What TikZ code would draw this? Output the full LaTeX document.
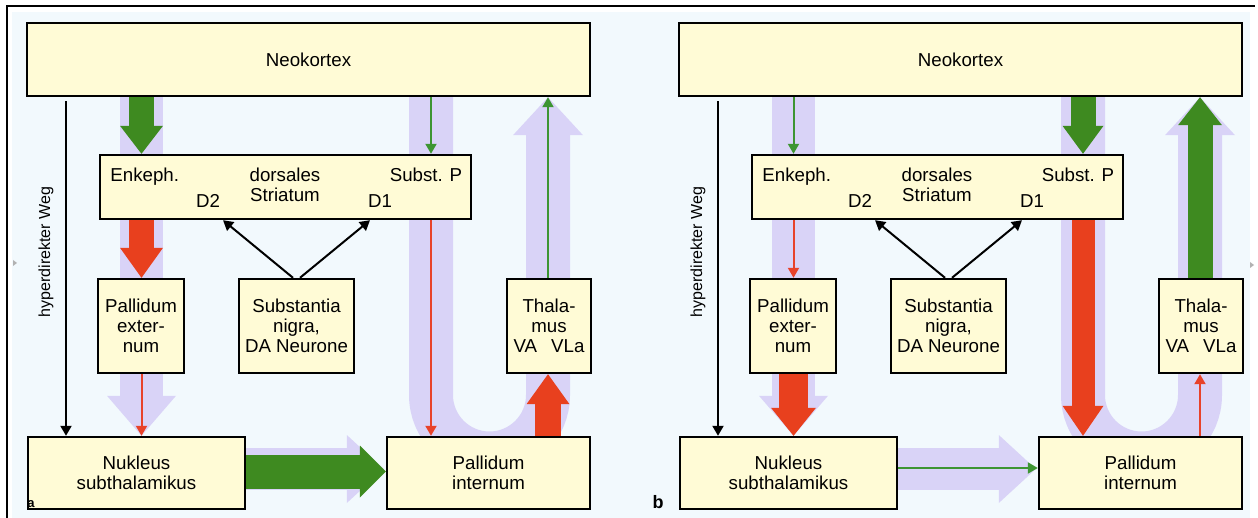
\documentclass[tikz,border=0pt]{standalone}
\usepackage{fontspec}
\setmainfont{Liberation Sans}
\usetikzlibrary{arrows.meta}
\definecolor{boxfill}{HTML}{FFFBD6}
\definecolor{lav}{HTML}{D9D3F7}
\definecolor{bgblue}{HTML}{F2F9FD}
\definecolor{fatgreen}{HTML}{3E8A20}
\definecolor{fatred}{HTML}{E8401E}
\definecolor{thingreen}{HTML}{3D9532}
\definecolor{thinred}{HTML}{E8422A}
\pgfdeclarelayer{back}
\pgfdeclarelayer{bg}
\pgfdeclarelayer{mid}
\pgfsetlayers{back,bg,mid,main}
\newcommand\boxfont{\fontsize{9.35}{10}\selectfont}
\tikzset{
  box/.style={draw=black, line width=1.2pt, fill=boxfill, inner sep=0pt, align=center, font=\boxfont},
  lbl/.style={inner sep=0pt, anchor=base, font=\boxfont},
  thinarr/.style={line width=1pt, -{Triangle[length=5pt,width=5.5pt]}},
  fat/.style n args={4}{draw=#1, line width=#2, -{Triangle[length=#4,width=#3,line width=0pt]}},
}
\newcommand\basepanel[2]{%
\begin{scope}[xshift=#2]
  \node[box, minimum width=281.5pt, minimum height=36.5pt] (#1neo) at (308.5,59.5) {Neokortex};
  \node[box, minimum width=185.5pt, minimum height=32pt] (#1str) at (285.5,187) {};
  \node[lbl, anchor=base west] (#1enk) at (110,182) {Enkeph.};
  \node[lbl] (#1dor) at (285,182) {dorsales};
  \node[lbl] (#1stt) at (285,202) {Striatum};
  \node[lbl] (#1dd2) at (208,208) {D2};
  \node[lbl] (#1dd1) at (380,208) {D1};
  \node[lbl] (#1sp) at (426,182) {Subst. P};
  \node[box, minimum width=43pt, minimum height=47pt] (#1pe) at (141,326) {Pallidum\\exter-\\num};
  \node[box, minimum width=57.5pt, minimum height=47pt] (#1sn) at (296.5,326) {Substantia\\nigra,\\DA Neurone};
  \node[box, minimum width=42pt, minimum height=47pt] (#1thal) at (549,326) {Thala-\\mus\\VA\hspace{7pt}VLa};
  \node[box, minimum width=108.5pt, minimum height=36pt] (#1nuk) at (136.5,473) {Nukleus\\subthalamikus};
  \node[box, minimum width=101.5pt, minimum height=36pt] (#1pi) at (488.5,473) {Pallidum\\internum};
  \coordinate (#1cL) at (141.5,0);
  \coordinate (#1cR1) at (431,0);
  \coordinate (#1cR2) at (548,0);
  \coordinate (#1cH) at (66,0);
  \coordinate (#1cD2) at (223,0);
  \coordinate (#1cD1) at (370,0);
  \coordinate (#1rH) at (0,469);
  \coordinate (#1rH2) at (0,471.5);
  \coordinate (#1rH3) at (0,468);
  \begin{pgfonlayer}{bg}
    \draw[fat={lav}{21.5pt}{34.5pt}{20pt}] (#1cL |- #1neo.south) -- (#1cL |- #1nuk.north);
    \draw[fat={lav}{21pt}{34pt}{18.5pt}, shorten >=1pt] (#1rH -| #1nuk.east) -- (#1rH -| #1pi.west);
    \draw[fat={lav}{22pt}{35pt}{19pt}] (#1cR1 |- #1neo.south) -- (431,395)
      .. controls (431,427.3) and (457.2,453.5) .. (489.5,453.5)
      .. controls (521.8,453.5) and (548,427.3) .. (548,395) -- (#1cR2 |- #1neo.south);
  \end{pgfonlayer}
  \draw[thinarr] ([yshift=-2pt]#1cH |- #1neo.south) -- (#1cH |- #1nuk.north);
  \node[rotate=90, inner sep=0pt, font=\fontsize{8}{9.6}\selectfont] (#1hyp) at (46,252) {hyperdirekter Weg};
  \draw[thinarr] ([xshift=-1.75pt]#1sn.north) -- (#1cD2 |- #1str.south);
  \draw[thinarr] ([xshift=1.75pt]#1sn.north) -- (#1cD1 |- #1str.south);
\end{scope}}
\begin{document}
\begin{tikzpicture}[x=0.5pt,y=-0.5pt]
\useasboundingbox (0,0) rectangle (1258,518);
\begin{pgfonlayer}{back}
  \fill[white] (0,0) rectangle (1258,518);
  \fill[bgblue] (12,12) rectangle (1250,518);
  \draw[line width=1pt] (7,518) -- (7,6) -- (1255,6);
  \fill[gray!60] (13,260) -- (17,263) -- (13,266) -- cycle;
  \fill[gray!60] (1250,262) -- (1254,265) -- (1250,268) -- cycle;
\end{pgfonlayer}
\basepanel{a}{0pt}
\basepanel{b}{326pt}
% panel a
\begin{pgfonlayer}{mid}
  \draw[fat={fatgreen}{12.5pt}{21.5pt}{14pt}] (acL |- aneo.south) -- (acL |- astr.north);
  \draw[fat={fatred}{12.5pt}{21.5pt}{15pt}] (acL |- astr.south) -- (acL |- ape.north);
  \draw[fat={fatgreen}{17pt}{26pt}{13pt}] (arH2 -| anuk.east) -- (arH2 -| api.west);
  \draw[fat={fatred}{13pt}{21.5pt}{15pt}] (acR2 |- api.north) -- (acR2 |- athal.south);
  % panel b
  \draw[fat={fatred}{14.5pt}{22.5pt}{14pt}] (bcL |- bpe.south) -- (bcL |- bnuk.north);
  \draw[fat={fatgreen}{12.5pt}{20.5pt}{14pt}] (bcR1 |- bneo.south) -- (bcR1 |- bstr.north);
  \draw[fat={fatred}{11.5pt}{20.5pt}{15pt}] (bcR1 |- bstr.south) -- (bcR1 |- bpi.north);
  \draw[fat={fatgreen}{12.5pt}{22pt}{14pt}] (bcR2 |- bthal.north) -- (bcR2 |- bneo.south);
\end{pgfonlayer}
\draw[thinarr, thinred] (acL |- ape.south) -- (acL |- anuk.north);
\draw[thinarr, thingreen] (acR1 |- aneo.south) -- (acR1 |- astr.north);
\draw[thinarr, thinred] (acR1 |- astr.south) -- (acR1 |- api.north);
\draw[thinarr, thingreen] (acR2 |- athal.north) -- (acR2 |- aneo.south);
\draw[thinarr, thingreen] (bcL |- bneo.south) -- (bcL |- bstr.north);
\draw[thinarr, thinred] (bcL |- bstr.south) -- (bcL |- bpe.north);
\draw[thinarr, thingreen] (brH3 -| bnuk.east) -- (brH3 -| bpi.west);
\draw[thinarr, thinred] (bcR2 |- bpi.north) -- (bcR2 |- bthal.south);
\node[inner sep=0pt, font=\bfseries\fontsize{6.5}{6.5}\selectfont] (alab) at (31,504) {a};
\node[inner sep=0pt, font=\bfseries\fontsize{9}{9}\selectfont] (blab) at (658,502) {b};
\end{tikzpicture}
\end{document}
